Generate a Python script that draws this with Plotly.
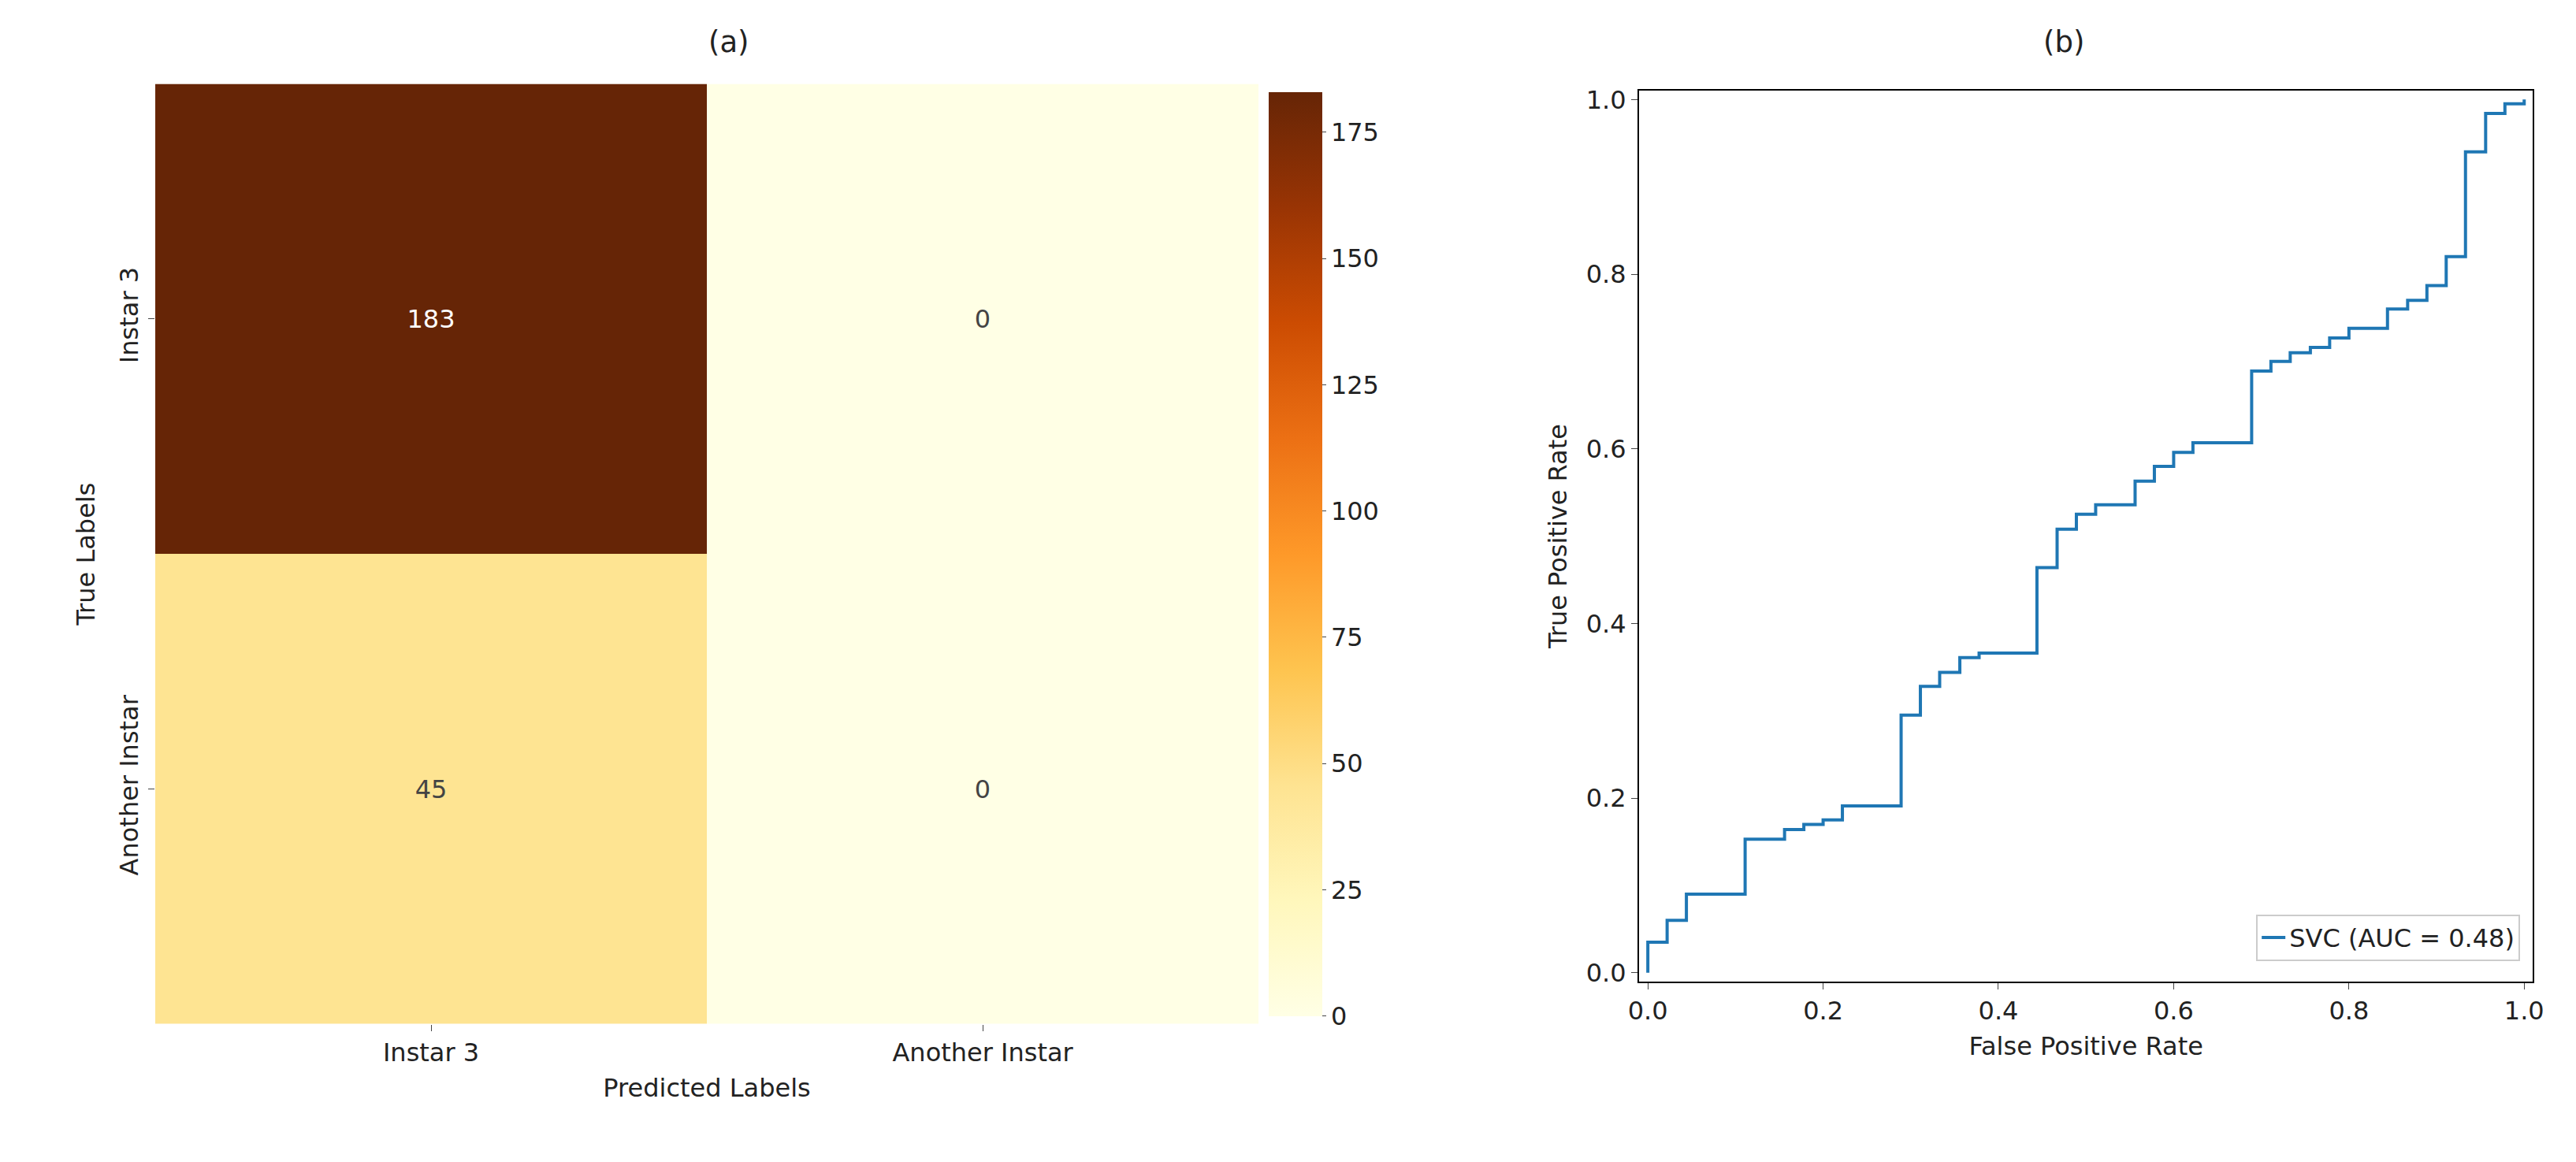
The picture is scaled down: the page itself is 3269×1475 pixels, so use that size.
import plotly.graph_objects as go

labels = ["Instar 3", "Another Instar"]
cm = [[183, 0], [45, 0]]

fpr = [0, 0, 0.022, 0.044, 0.111, 0.156, 0.178, 0.2, 0.222, 0.289, 0.289, 0.311, 0.333, 0.356, 0.378,
       0.444, 0.444, 0.467, 0.489, 0.511, 0.556, 0.578, 0.6, 0.622, 0.689, 0.689, 0.711, 0.733, 0.756,
       0.778, 0.8, 0.844, 0.867, 0.889, 0.911, 0.933, 0.956, 0.978, 1.0]
tpr = [0, 0.035, 0.06, 0.09, 0.153, 0.164, 0.17, 0.175, 0.191, 0.197, 0.295, 0.328, 0.344, 0.361, 0.366,
       0.388, 0.464, 0.508, 0.525, 0.536, 0.563, 0.58, 0.596, 0.607, 0.623, 0.689, 0.7, 0.71, 0.716,
       0.727, 0.738, 0.76, 0.77, 0.787, 0.82, 0.94, 0.984, 0.995, 1.0]

FONT = dict(family="DejaVu Sans", size=32, color="#222")
TITLE_FONT = dict(family="DejaVu Sans", size=37, color="#222")

fig = go.Figure()
fig.add_trace(go.Heatmap(
    z=cm, x=labels, y=labels, colorscale="YlOrBr", zmin=0, zmax=183,
    text=[[str(v) for v in r] for r in cm], texttemplate="%{text}",
    textfont=dict(size=32), xaxis="x", yaxis="y", showscale=True,
    colorbar=dict(x=0.487, xanchor="left", y=0.529, yanchor="middle", len=0.818, thickness=68,
                  tickvals=list(range(0, 176, 25)), ticks="outside", outlinewidth=0,
                  tickfont=FONT)))
fig.add_trace(go.Scatter(
    x=fpr, y=tpr, mode="lines", line=dict(color="#1f77b4", width=4, shape="hv"),
    name="SVC (AUC = 0.48)", xaxis="x2", yaxis="y2", showlegend=True))

fig.update_layout(
    width=3269, height=1475, plot_bgcolor="white", paper_bgcolor="white", font=FONT,
    margin=dict(l=0, r=0, t=0, b=0),
    xaxis=dict(domain=[0.054, 0.486], anchor="y", ticks="outside", ticklen=8, showgrid=False,
               title=dict(text="Predicted Labels", font=FONT)),
    yaxis=dict(domain=[0.12, 0.938], anchor="x", autorange="reversed", ticks="outside", ticklen=8,
               tickangle=-90, showgrid=False, title=dict(text="True Labels", font=FONT)),
    xaxis2=dict(domain=[0.635, 0.985], anchor="y2", range=[-0.01, 1.01], dtick=0.2, tickformat=".1f",
                ticks="outside", ticklen=8, showgrid=False, zeroline=False, showline=True, mirror=True,
                linecolor="black", linewidth=2, title=dict(text="False Positive Rate", font=FONT)),
    yaxis2=dict(domain=[0.157, 0.932], anchor="x2", range=[-0.01, 1.01], dtick=0.2, tickformat=".1f",
                ticks="outside", ticklen=8, showgrid=False, zeroline=False, showline=True, mirror=True,
                linecolor="black", linewidth=2, title=dict(text="True Positive Rate", font=FONT)),
    legend=dict(x=0.98, y=0.175, xanchor="right", yanchor="bottom", bordercolor="#ccc", borderwidth=2,
                bgcolor="white", font=FONT),
    annotations=[
        dict(text="(a)", x=0.27, y=0.974, xref="paper", yref="paper", showarrow=False,
             yanchor="middle", font=TITLE_FONT),
        dict(text="(b)", x=0.81, y=0.974, xref="paper", yref="paper", showarrow=False,
             yanchor="middle", font=TITLE_FONT),
    ],
)

fig.write_html("out.html")
